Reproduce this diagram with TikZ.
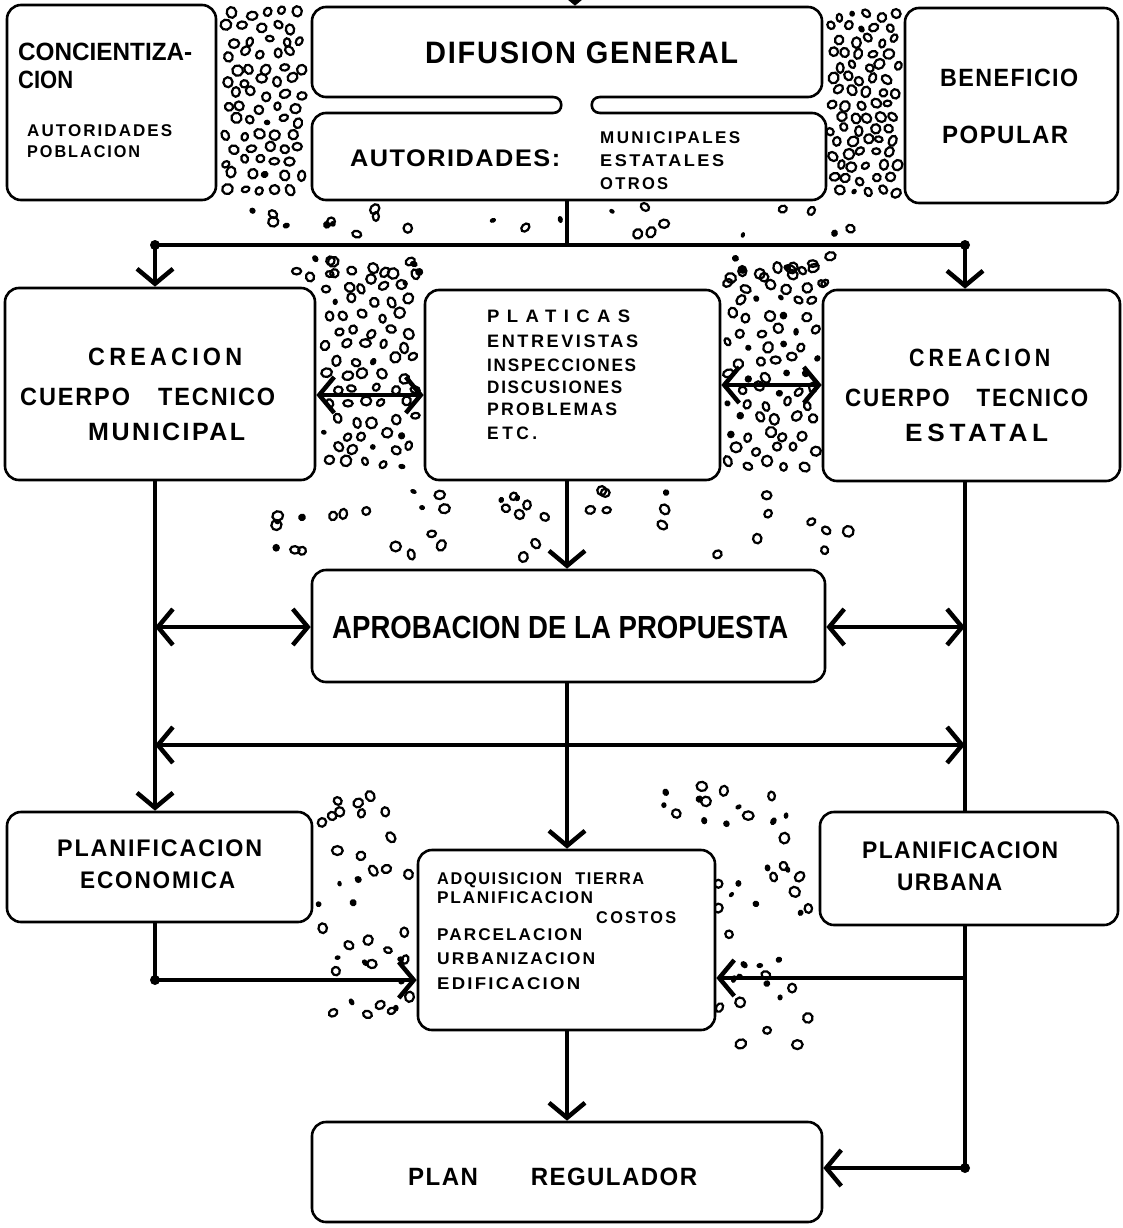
\documentclass[tikz,border=0pt]{standalone}
\usepackage{fontspec}
\usepackage{graphicx}
\setmainfont{Liberation Sans}
\usetikzlibrary{arrows.meta}

\newcommand\lsp[1]{\addfontfeature{LetterSpace=#1}}
\newcommand\lbl[6]{\node[anchor=base west,inner sep=0pt] (#1) at (#2,{#3+0.358*#5}) {\resizebox{#4pt}{\height}{\fontsize{#5pt}{#5pt}\selectfont\bfseries #6}};}
% one bubble at (\bubX,\bubY), filled with probability #1
\newcommand\onebub[1]{%
    \pgfmathsetmacro\bubA{3.8+1.7*rnd}%
    \pgfmathsetmacro\bubB{\bubA*(0.68+0.32*rnd)}%
    \pgfmathsetmacro\bubR{180*rnd}%
    \pgfmathsetmacro\bubF{rnd<#1?1:0}%
    \ifdim\bubF pt>0.5pt
      \fill (\bubX,\bubY) circle [x radius=0.75*\bubA pt, y radius=0.75*\bubB pt, rotate=\bubR];
    \else
      \draw[bub] (\bubX,\bubY) circle [x radius=\bubA pt, y radius=\bubB pt, rotate=\bubR];
    \fi}
% random scatter: seed, count, x0, y0, w, h, fill fraction
\newcommand\bubbles[7]{%
  \pgfmathsetseed{#1}%
  \foreach \i in {1,...,#2}{%
    \pgfmathsetmacro\bubX{#3+#5*rnd}%
    \pgfmathsetmacro\bubY{#4+#6*rnd}%
    \onebub{#7}%
  }}
% dense jittered grid: seed, x0, y0, cols, rows, dx, dy, fill fraction, jitter
\newcommand\bubgrid[9]{%
  \pgfmathsetseed{#1}%
  \foreach \cc in {1,...,#4}{%
    \foreach \rr in {1,...,#5}{%
      \pgfmathsetmacro\bubX{#2+(\cc-0.75+0.5*mod(\rr,2))*#6+#9*(rnd-0.5)}%
      \pgfmathsetmacro\bubY{#3+(\rr-0.5)*#7+#9*(rnd-0.5)}%
      \onebub{#8}%
    }}}

\begin{document}
\begin{tikzpicture}[x=1pt,y=-1pt,
  box/.style={draw,line width=2.6pt,rounded corners=14pt,fill=white,inner sep=0pt},
  ln/.style={line width=4.5pt},
  arr/.style={ln,-{Straight Barb[length=15pt,width=36pt]}},
  darr/.style={ln,{Straight Barb[length=15pt,width=36pt]}-{Straight Barb[length=15pt,width=36pt]}},
  bub/.style={line width=2.2pt},
]
\useasboundingbox[fill=white] (0,0) rectangle (1123,1228);

% ---- bubble texture
\bubgrid{3}{222}{7}{5}{14}{16.5}{13.4}{0.06}{7}
\bubgrid{5}{829}{9}{5}{15}{14}{12.6}{0.06}{6}
\bubbles{7}{24}{250}{205}{610}{30}{0.3}
\bubgrid{9}{322}{264}{5}{14}{19}{14.8}{0.12}{8}
\bubbles{13}{12}{290}{256}{130}{28}{0.3}
\bubgrid{17}{726}{264}{5}{14}{18.5}{14.8}{0.12}{8}
\bubbles{19}{12}{715}{254}{120}{30}{0.15}
\bubbles{23}{42}{270}{490}{610}{68}{0.35}
\bubbles{29}{38}{318}{790}{94}{230}{0.35}
\bubbles{31}{36}{718}{795}{92}{255}{0.4}
\bubbles{37}{8}{630}{785}{100}{40}{0.4}

% ---- boxes
\node[box,minimum width=209pt,minimum height=195pt] (conc) at (111.5,102.5) {};
\node[box,minimum width=510pt,minimum height=90pt] (difA) at (567,52) {};
\node[box,minimum width=514pt,minimum height=87pt] (difB) at (569,156.5) {};
\fill[white] (553,93) rectangle (600,117);
\draw[line width=2.6pt] (553,97) .. controls (564,97) and (564,113) .. (553,113);
\draw[line width=2.6pt] (600,97) .. controls (589,97) and (589,113) .. (600,113);
\node[box,minimum width=213pt,minimum height=195pt] (ben) at (1011.5,105.5) {};
\node[box,minimum width=310pt,minimum height=192pt] (ctm) at (160,384) {};
\node[box,minimum width=295pt,minimum height=190pt] (plat) at (572.5,385) {};
\node[box,minimum width=297pt,minimum height=191pt] (cte) at (971.5,385.5) {};
\node[box,minimum width=513pt,minimum height=112pt] (aprob) at (568.5,626) {};
\node[box,minimum width=305pt,minimum height=110pt] (pec) at (159.5,867) {};
\node[box,minimum width=297pt,minimum height=180pt] (adq) at (566.5,940) {};
\node[box,minimum width=298pt,minimum height=113pt] (purb) at (969,868.5) {};
\node[box,minimum width=510pt,minimum height=100pt] (preg) at (567,1172) {};

% ---- coordinates
\coordinate (xL) at (155,0);
\coordinate (xR) at (965,0);
\coordinate (xM) at (567,0);
\coordinate (jT) at (567,245);
\coordinate (jL) at (155,245);
\coordinate (jR) at (965,245);
\coordinate (yBC) at (0,395);
\coordinate (yCD) at (0,385);
\coordinate (yAp) at (0,627);
\coordinate (yMid) at (0,745);
\coordinate (jF) at (155,980);
\coordinate (jE) at (965,978);
\coordinate (jP) at (965,1168);
\coordinate (top) at (575,-40);

% ---- connectors
\draw[arr] (top) -- (top |- difA.north);
\draw[ln] (jT |- difB.south) -- (jT);
\draw[ln] (jL) -- (jR);
\draw[arr] (jL) -- (jL |- ctm.north);
\draw[arr] (jR) -- (jR |- cte.north);
\draw[darr] (ctm.east |- yBC) -- (plat.west |- yBC);
\draw[darr] (plat.east |- yCD) -- (cte.west |- yCD);
\draw[arr] (xM |- plat.south) -- (xM |- aprob.north);
\draw[arr] (xL |- ctm.south) -- (xL |- pec.north);
\draw[ln] (xR |- cte.south) -- (xR |- purb.north);
\draw[darr] (xL |- yAp) -- (aprob.west |- yAp);
\draw[darr] (aprob.east |- yAp) -- (xR |- yAp);
\draw[darr] (xL |- yMid) -- (xR |- yMid);
\draw[arr] (xM |- aprob.south) -- (xM |- adq.north);
\draw[ln] (xL |- pec.south) -- (jF);
\draw[arr] (jF) -- (adq.west |- jF);
\draw[ln] (xR |- purb.south) -- (jP);
\draw[arr] (jE) -- (adq.east |- jE);
\draw[arr] (jP) -- (preg.east |- jP);
\draw[arr] (xM |- adq.south) -- (xM |- preg.north);
\fill (jL) circle (5pt);
\fill (jR) circle (5pt);
\fill (jF) circle (5pt);
\fill (jP) circle (5pt);

% ---- texts
\lbl{t1}{18}{52}{174}{25}{CONCIENTIZA-}
\lbl{t2}{18}{80}{55}{25}{CION}
\lbl{t3}{27}{130}{145}{17}{\lsp{12}AUTORIDADES}
\lbl{t4}{27}{151}{113}{17}{\lsp{12}POBLACION}
\lbl{t5}{425}{52}{313}{31}{\lsp{6}DIFUSION GENERAL}
\lbl{t6}{350}{158}{210}{24}{\lsp{6}AUTORIDADES:}
\lbl{t7}{600}{137}{140}{17}{\lsp{14}MUNICIPALES}
\lbl{t8}{600}{160}{124}{17}{\lsp{14}ESTATALES}
\lbl{t9}{600}{183}{68}{17}{\lsp{14}OTROS}
\lbl{t10}{940}{78}{138}{25}{\lsp{6}BENEFICIO}
\lbl{t11}{942}{135}{126}{25}{\lsp{6}POPULAR}
\lbl{t12}{88}{357}{154}{25}{\lsp{18}CREACION}
\lbl{t13}{20}{397}{255}{25}{\lsp{8}CUERPO\hspace{1.2em}TECNICO}
\lbl{t14}{88}{432}{157}{25}{\lsp{10}MUNICIPAL}
\lbl{t15}{487}{316}{143}{18}{\lsp{40}PLATICAS}
\lbl{t16}{487}{341}{151}{18}{\lsp{14}ENTREVISTAS}
\lbl{t17}{487}{365}{149}{18}{\lsp{10}INSPECCIONES}
\lbl{t18}{487}{387}{135}{18}{\lsp{10}DISCUSIONES}
\lbl{t19}{487}{409}{130}{18}{\lsp{12}PROBLEMAS}
\lbl{t20}{487}{433}{50}{18}{\lsp{20}ETC.}
\lbl{t21}{909}{358}{141}{25}{\lsp{18}CREACION}
\lbl{t22}{845}{398}{243}{25}{\lsp{8}CUERPO\hspace{1.2em}TECNICO}
\lbl{t23}{905}{433}{143}{25}{\lsp{18}ESTATAL}
\lbl{t24}{332}{627}{456}{32}{APROBACION DE LA PROPUESTA}
\lbl{t25}{57}{848}{205}{24}{\lsp{8}PLANIFICACION}
\lbl{t26}{80}{880}{155}{24}{\lsp{8}ECONOMICA}
\lbl{t27}{862}{850}{196}{24}{\lsp{6}PLANIFICACION}
\lbl{t28}{897}{882}{105}{24}{\lsp{6}URBANA}
\lbl{t29}{437}{878}{207}{17}{\lsp{10}ADQUISICION\hspace{0.8em}TIERRA}
\lbl{t30}{437}{897}{156}{17}{\lsp{10}PLANIFICACION}
\lbl{t31}{596}{917}{80}{17}{\lsp{14}COSTOS}
\lbl{t32}{437}{934}{145}{17}{\lsp{12}PARCELACION}
\lbl{t33}{437}{958}{158}{17}{\lsp{12}URBANIZACION}
\lbl{t34}{437}{983}{143}{17}{\lsp{12}EDIFICACION}
\lbl{t35}{408}{1177}{289}{25}{\lsp{6}PLAN\hspace{2.2em}REGULADOR}
\end{tikzpicture}
\end{document}
